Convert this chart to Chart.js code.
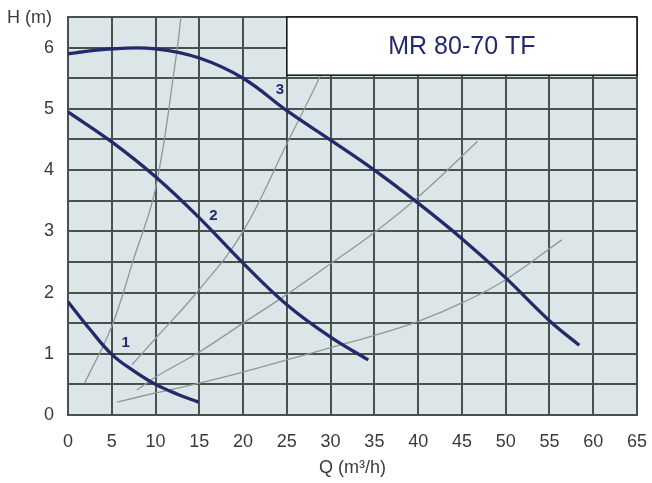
<!DOCTYPE html>
<html>
<head>
<meta charset="utf-8">
<script src="https://cdn.jsdelivr.net/npm/chart.js@4"></script>
<style>
  html, body { margin: 0; padding: 0; background: #ffffff; }
  #wrap { width: 652px; height: 483px; }
</style>
</head>
<body>
<div id="wrap"><canvas id="c" width="652" height="483"></canvas></div>
<script>
// Pump curves (Q in m3/h, H in m)
const q1 = [0, 2.5, 5, 7.5, 10, 12.5, 14.9];
const h1 = [1.85, 1.4, 0.99, 0.72, 0.5, 0.34, 0.21];
const q2 = [0, 5, 10, 15, 20, 25, 30, 34.3];
const h2 = [4.95, 4.46, 3.89, 3.22, 2.48, 1.8, 1.27, 0.9];
const q3 = [0, 5, 10, 15, 20, 25, 30, 35, 40, 45, 50, 55, 58.4];
const h3 = [5.9, 5.98, 5.98, 5.83, 5.5, 4.97, 4.49, 4.0, 3.46, 2.88, 2.24, 1.54, 1.14];
// System curves (thin grey)
const qA = [1.9, 5, 7.5, 10, 12.4, 12.9];
const hA = [0.52, 1.45, 2.55, 3.7, 5.9, 6.5];
const qB = [7.3, 10, 15, 20, 25, 28.6, 30.5];
const hB = [0.82, 1.25, 2.05, 3.0, 4.43, 5.47, 6.1];
const qC = [7.9, 10, 15, 20, 25, 30, 35, 40, 46.8];
const hC = [0.41, 0.62, 1.03, 1.5, 1.97, 2.47, 2.98, 3.56, 4.47];
const qD = [5.6, 10, 15, 20, 25, 30, 35, 40, 45, 50, 56.4];
const hD = [0.21, 0.36, 0.52, 0.7, 0.9, 1.1, 1.3, 1.53, 1.83, 2.21, 2.86];
// Curve numbers and where they sit (Q, H)
const curveNames = ['1', '2', '3'];
const curveNameQ = [6.6, 16.6, 24.2];
const curveNameH = [1.18, 3.26, 5.31];
// Axis ticks
const xTicks = [0, 5, 10, 15, 20, 25, 30, 35, 40, 45, 50, 55, 60, 65];
const yTicks = [0, 1, 2, 3, 4, 5, 6];
const chartTitle = 'MR 80-70 TF';
const boxQ = [25, 65];
const boxH = [5.55, 6.5];

const FONT = '"Liberation Sans", Arial, sans-serif';
const NAVY = '#222a6c';
const GRID = '#47524f';
const THIN = '#8d999c';
const TXT = '#3a3a3a';

function pts(q, h) { return q.map((v, i) => ({ x: v, y: h[i] })); }
function pump(q, h) {
  return { data: pts(q, h), showLine: true, borderColor: NAVY, borderWidth: 3.3,
           pointRadius: 0, tension: 0.4, fill: false, order: 1 };
}
function sys(q, h) {
  return { data: pts(q, h), showLine: true, borderColor: THIN, borderWidth: 1.3,
           pointRadius: 0, tension: 0.4, fill: false, order: 2 };
}

const deco = {
  id: 'deco',
  beforeDraw(chart) {
    const a = chart.chartArea, ctx = chart.ctx;
    ctx.save();
    ctx.fillStyle = '#dce5e8';
    ctx.fillRect(a.left, a.top, a.right - a.left, a.bottom - a.top);
    ctx.restore();
  },
  afterDatasetsDraw(chart) {
    const ctx = chart.ctx, xs = chart.scales.x, ys = chart.scales.y;
    ctx.save();
    const x0 = xs.getPixelForValue(boxQ[0]), x1 = xs.getPixelForValue(boxQ[1]);
    const y0 = ys.getPixelForValue(boxH[1]), y1 = ys.getPixelForValue(boxH[0]);
    ctx.fillStyle = '#ffffff';
    ctx.fillRect(x0, y0, x1 - x0, y1 - y0);
    ctx.strokeStyle = '#111111';
    ctx.lineWidth = 1.5;
    ctx.strokeRect(x0, y0, x1 - x0, y1 - y0);
    ctx.fillStyle = NAVY;
    ctx.font = '25px ' + FONT;
    ctx.textAlign = 'center';
    ctx.textBaseline = 'middle';
    ctx.fillText(chartTitle, (x0 + x1) / 2, (y0 + y1) / 2 + 1);
    ctx.font = 'bold 15px ' + FONT;
    curveNames.forEach((n, i) => {
      ctx.fillText(n, xs.getPixelForValue(curveNameQ[i]), ys.getPixelForValue(curveNameH[i]));
    });
    ctx.restore();
  },
  afterDraw(chart) {
    const ctx = chart.ctx;
    ctx.save();
    ctx.fillStyle = TXT;
    ctx.font = '18px ' + FONT;
    ctx.textAlign = 'left';
    ctx.textBaseline = 'middle';
    ctx.fillText('H (m)', 7, 18);
    ctx.restore();
  }
};

new Chart(document.getElementById('c'), {
  type: 'scatter',
  data: {
    datasets: [
      sys(qA, hA), sys(qB, hB), sys(qC, hC), sys(qD, hD),
      pump(q1, h1), pump(q2, h2), pump(q3, h3)
    ]
  },
  options: {
    responsive: false,
    animation: false,
    layout: { padding: { top: 17, right: 15, left: 0, bottom: 0 } },
    plugins: { legend: { display: false }, tooltip: { enabled: false } },
    scales: {
      x: {
        type: 'linear', min: 0, max: 65,
        afterBuildTicks: s => { s.ticks = xTicks.map(v => ({ value: v })); },
        afterFit: s => { s.height = 68; s.paddingLeft = 0; s.paddingRight = 0; },
        ticks: { color: TXT, font: { family: FONT, size: 18 }, padding: 16, maxRotation: 0, autoSkip: false },
        grid: { color: GRID, lineWidth: 2, drawTicks: false },
        border: { color: GRID, width: 2 },
        title: { display: true, text: 'Q (m³/h)', color: TXT, font: { family: FONT, size: 18 }, padding: { top: 0, bottom: 4 } }
      },
      y: {
        type: 'linear', min: 0, max: 6.5,
        afterBuildTicks: s => {
          const t = [];
          for (let v = 0; v <= 6.5 + 1e-9; v += 0.5) t.push({ value: Math.round(v * 2) / 2 });
          s.ticks = t;
        },
        afterFit: s => { s.width = 68; s.paddingTop = 0; s.paddingBottom = 0; },
        ticks: {
          color: TXT, font: { family: FONT, size: 18 }, padding: 14, autoSkip: false,
          callback: v => yTicks.includes(v) ? String(v) : ''
        },
        grid: { color: GRID, lineWidth: 2, drawTicks: false },
        border: { color: GRID, width: 2 }
      }
    }
  },
  plugins: [deco]
});
</script>
</body>
</html>
